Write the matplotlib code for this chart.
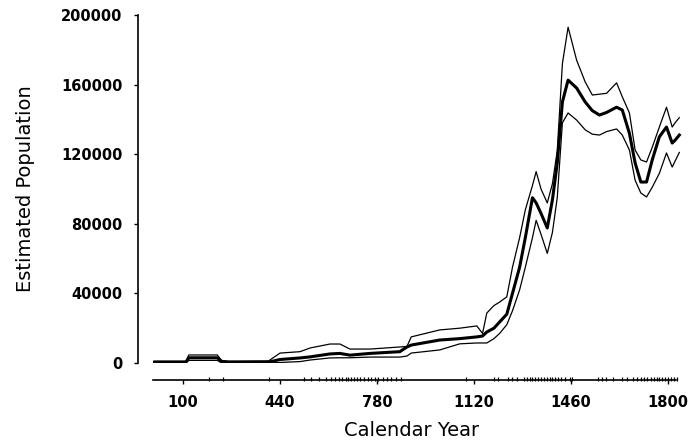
import matplotlib
import matplotlib.pyplot as plt

matplotlib.use("Agg")

X_LABEL = "Calendar Year"
Y_LABEL = "Estimated Population"

years = [0, 110, 120, 220, 235, 260, 400, 440, 510, 545,
         615, 650, 685, 755, 860, 885, 900, 1000, 1070, 1130,
         1150, 1165, 1190, 1210, 1235, 1255, 1280, 1300, 1325, 1338,
         1355, 1377, 1395, 1412, 1430, 1450, 1480, 1510, 1535, 1560,
         1585, 1620, 1640, 1665, 1685, 1705, 1725, 1745, 1770, 1795,
         1815, 1825, 1840]

upper = [1000, 1000, 4600, 4600, 1500, 1000, 1200, 5700, 6500, 8600,
         10900, 10900, 8000, 8000, 9200, 9500, 15000, 19000, 20000, 21300,
         17000, 28700, 33000, 35000, 38000, 55000, 72000, 88000, 102000, 110000,
         100000, 92000, 103000, 122000, 172000, 193000, 174000, 161500, 154000, 154500,
         155000, 161000, 153000, 143700, 122400, 116700, 115500, 124000, 135600, 147000,
         135600, 138000, 141000]

median = [500, 500, 3000, 3000, 800, 500, 500, 2000, 2900, 3500,
          5200, 5500, 4500, 5500, 6500, 9200, 10300, 13200, 14000, 15000,
          15500, 17800, 20000, 23600, 28000, 40000, 55000, 72000, 95000, 92000,
          86000, 77600, 93700, 115000, 150000, 162600, 158000, 150000, 145000, 142500,
          144000, 147000, 145400, 132000, 115000, 104000, 104000, 116700, 130000, 135600,
          126400, 128000, 131000]

lower = [0, 0, 1500, 1500, 0, 0, 0, 300, 800, 1700,
         2900, 3000, 3000, 3400, 3400, 4000, 5700, 7500, 11000, 11500,
         11500, 11500, 14000, 17000, 22000, 30000, 42000, 55000, 72000, 82000,
         74000, 63000, 75000, 95000, 138000, 143700, 139600, 134000, 131500, 131000,
         133000, 134500, 131000, 122400, 105000, 97700, 95400, 101000, 109000, 120700,
         112600, 116000, 121000]

# dated samples shown as a rug on the x axis
rug_years = [190, 240, 400, 525, 550, 578, 600, 618, 632, 645, 657, 670, 680,
             690, 700, 710, 722, 735, 748, 760, 772, 785, 800, 815, 830, 845,
             865, 1092, 1190, 1205, 1240, 1255, 1270, 1295, 1305, 1315, 1325,
             1335, 1345, 1355, 1365, 1375, 1385, 1395, 1405, 1415, 1425, 1440,
             1455, 1465, 1555, 1570, 1583, 1607, 1638, 1655, 1676, 1690, 1705,
             1716, 1728, 1740, 1750, 1760, 1770, 1780, 1790, 1800, 1810, 1820,
             1832]

x_ticks = [100, 440, 780, 1120, 1460, 1800]
y_ticks = [0, 40000, 80000, 120000, 160000, 200000]

fig = plt.figure(figsize=(6.9, 4.45), dpi=100)
ax = fig.add_axes([0.2, 0.1843, 0.7928, 0.782])

ax.plot(years, upper, color="black", lw=0.9)
ax.plot(years, lower, color="black", lw=0.9)
ax.plot(years, median, color="black", lw=2.2)

ax.set_xlim(-58, 1860)
ax.set_ylim(0, 200000)

for side in ["top", "right"]:
    ax.spines[side].set_visible(False)
ax.spines["left"].set_bounds(0, 200000)
ax.spines["bottom"].set_position(("outward", 12.2))
ax.spines["bottom"].set_bounds(-5, 1830)
ax.spines["left"].set_linewidth(1.2)
ax.spines["bottom"].set_linewidth(1.2)

# rug marks sit just above the offset x axis line
ax.plot(rug_years, [-16 / 348] * len(rug_years), "|", color="black",
        markersize=2.5, markeredgewidth=0.9,
        transform=ax.get_xaxis_transform(), clip_on=False)

ax.set_xticks(x_ticks)
ax.set_yticks(y_ticks)
ax.set_xticklabels([str(v) for v in x_ticks], fontweight="bold", fontsize=10.5)
ax.set_yticklabels([str(v) for v in y_ticks], fontweight="bold", fontsize=10.5)
ax.tick_params(axis="both", direction="out", length=3, width=1)
ax.tick_params(axis="y", pad=8)
ax.tick_params(axis="x", pad=8)

ax.set_xlabel(X_LABEL, fontsize=14, labelpad=8)
ax.set_ylabel(Y_LABEL, fontsize=14, labelpad=19)

fig.savefig("out.png", dpi=100)
